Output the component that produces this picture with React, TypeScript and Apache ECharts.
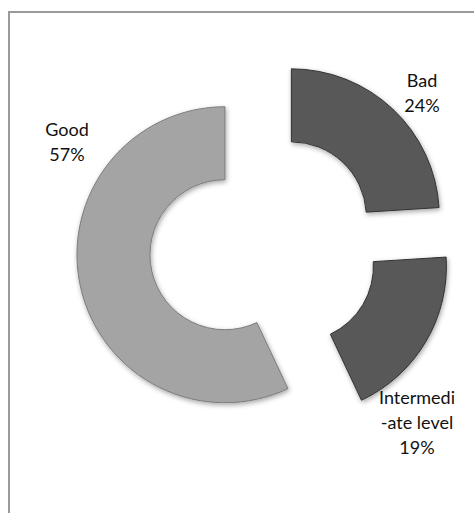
import React, { useEffect, useRef } from "react";
import * as echarts from "echarts";

const categories = ["Bad", "Intermedi\n-ate level", "Good"];
const values = [24, 19, 57];
const percentLabels = ["24%", "19%", "57%"];

const sliceColors = ["#585858", "#585858", "#a4a4a4"];
const borderColors = ["#333333", "#333333", "#7c7c7c"];
const labelCenters: [number, number][] = [
  [422, 92],
  [417, 422],
  [67, 141],
];

export default function App() {
  const ref = useRef<HTMLDivElement>(null);
  useEffect(() => {
    if (!ref.current) return;
    const chart = echarts.init(ref.current, undefined, { renderer: "svg" });
    const labelGraphics = categories.map((c, i) => ({
      type: "text",
      x: labelCenters[i][0],
      y: labelCenters[i][1],
      style: {
        text: `${c}\n${percentLabels[i]}`,
        fontFamily: "Lato",
        fontSize: 18,
        lineHeight: 25,
        fill: "#111111",
        align: "center",
        verticalAlign: "middle",
      },
    }));
    chart.setOption({
      animation: false,
      backgroundColor: "#ffffff",
      graphic: [
        { type: "line", shape: { x1: 8, y1: 12, x2: 474, y2: 12 }, style: { stroke: "#9a9a9a", lineWidth: 2 } },
        { type: "line", shape: { x1: 9, y1: 11, x2: 9, y2: 513 }, style: { stroke: "#9a9a9a", lineWidth: 2 } },
        ...labelGraphics,
      ],
      series: [
        {
          type: "pie",
          center: [264, 246],
          radius: [75, 148],
          startAngle: 90,
          clockwise: true,
          selectedMode: "multiple",
          selectedOffset: 40,
          emphasis: { disabled: true },
          label: { show: false },
          labelLine: { show: false },
          data: categories.map((c, i) => ({
            name: c,
            value: values[i],
            selected: true,
            itemStyle: {
              color: sliceColors[i],
              borderColor: borderColors[i],
              borderWidth: 1,
              shadowBlur: 5,
              shadowColor: "rgba(0,0,0,0.35)",
              shadowOffsetX: 1,
              shadowOffsetY: 2,
            },
          })),
        },
      ],
    });
    return () => chart.dispose();
  }, []);
  return (
    <div
      ref={ref}
      style={{ position: "absolute", left: 0, top: 0, width: 474, height: 513 }}
    />
  );
}
